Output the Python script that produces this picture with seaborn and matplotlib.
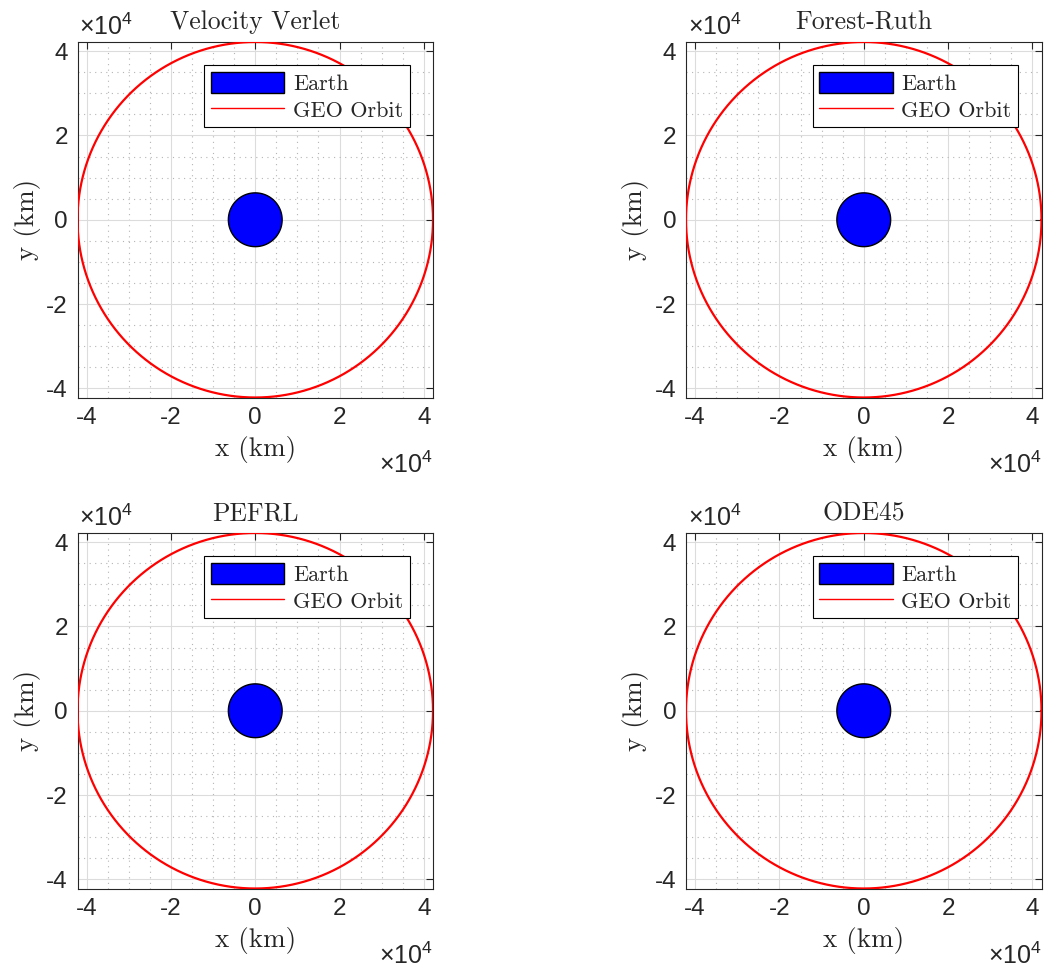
import numpy as np
import pandas as pd
import seaborn as sns
import matplotlib.pyplot as plt
from matplotlib.ticker import MultipleLocator, FuncFormatter

# orbit data (km)
methods = ["Velocity Verlet", "Forest-Ruth", "PEFRL", "ODE45"]
r_earth = 6378.0
r_geo = 42164.0
theta = np.linspace(0, 2 * np.pi, 721)

sns.set_theme(style="white")
plt.rcParams['font.family'] = ['Liberation Sans', 'DejaVu Sans']
plt.rcParams['mathtext.fontset'] = 'custom'
plt.rcParams['mathtext.rm'] = 'Liberation Sans'
plt.rcParams['mathtext.it'] = 'Liberation Sans'
SERIF = ['cmr10', 'DejaVu Serif']

fig = plt.figure(figsize=(10.46, 9.69), dpi=100)
W, H = 1046, 969
lefts = [77.5, 686]
tops = [42, 533]
size = 355.5

for i, name in enumerate(methods):
    row, col = divmod(i, 2)
    ax = fig.add_axes([lefts[col] / W, 1 - (tops[row] + size) / H, size / W, size / H])

    earth = pd.DataFrame({"x": r_earth * np.cos(theta), "y": r_earth * np.sin(theta)})
    orbit = pd.DataFrame({"x": r_geo * np.cos(theta), "y": r_geo * np.sin(theta)})

    ax.fill(earth["x"], earth["y"], facecolor="#0000ff", edgecolor="black",
            linewidth=1.0, label="Earth", zorder=3)
    sns.lineplot(data=orbit, x="x", y="y", sort=False, estimator=None, ax=ax,
                 color="red", linewidth=1.6, label="GEO Orbit", zorder=4)

    ax.set_xlim(-r_geo, r_geo)
    ax.set_ylim(-r_geo, r_geo)
    ax.set_aspect("equal")

    ax.xaxis.set_major_locator(MultipleLocator(20000))
    ax.yaxis.set_major_locator(MultipleLocator(20000))
    ax.xaxis.set_minor_locator(MultipleLocator(5000))
    ax.yaxis.set_minor_locator(MultipleLocator(5000))
    fmt = FuncFormatter(lambda v, p: f"{v / 1e4:.0f}")
    ax.xaxis.set_major_formatter(fmt)
    ax.yaxis.set_major_formatter(fmt)

    ax.grid(True, which="major", color="#dcdcdc", linewidth=0.8, linestyle="-")
    ax.grid(True, which="minor", color="#b5b5b5", linewidth=0.8, linestyle=(0, (1, 4)))
    ax.set_axisbelow(True)

    ax.tick_params(which="major", direction="in", length=5, width=0.8,
                   top=True, right=True, labelsize=17.5, labelcolor="#262626",
                   color="#262626", pad=7)
    ax.tick_params(which="minor", length=0)
    for sp in ax.spines.values():
        sp.set_color("#262626")
        sp.set_linewidth(0.8)

    ax.set_title(name, fontsize=18.5, pad=9, family=SERIF)
    ax.set_xlabel("x (km)", fontsize=19.5, labelpad=5, family=SERIF)
    ax.set_ylabel("y (km)", fontsize=19.5, labelpad=4, family=SERIF)

    off = r"$\times$" + "10" + r"$^{4}$"
    ax.text(0.005, 1.005, off, transform=ax.transAxes,
            ha="left", va="bottom", fontsize=18, color="#262626")
    ax.text(1.0, -0.152, off, transform=ax.transAxes,
            ha="right", va="top", fontsize=18, color="#262626")

    leg = ax.legend(loc="upper right", bbox_to_anchor=(0.935, 0.935),
                    prop={"family": SERIF, "size": 16},
                    handlelength=3.3, handleheight=1.1, fancybox=False, framealpha=1,
                    borderpad=0.3, labelspacing=0.2, handletextpad=0.4,
                    borderaxespad=0)
    leg.get_frame().set_edgecolor("black")
    leg.get_frame().set_linewidth(0.8)
    for ln in leg.get_lines():
        ln.set_linewidth(1.0)

fig.savefig("out.png", dpi=100)
